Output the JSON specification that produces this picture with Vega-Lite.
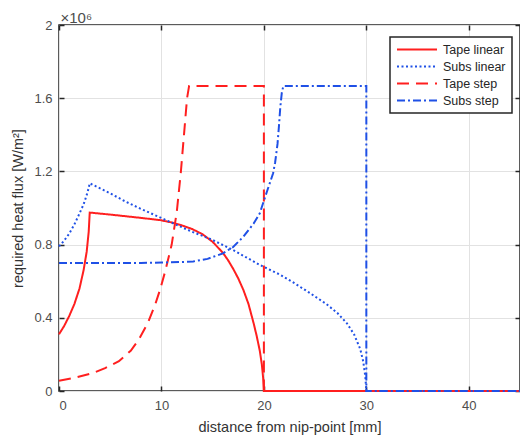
{
  "$schema": "https://vega.github.io/schema/vega-lite/v6.json",
  "width": 461,
  "height": 366,
  "autosize": {"type": "none"},
  "padding": {"left": 59, "top": 25, "right": 0, "bottom": 50},
  "background": "white",
  "config": {
    "font": "Liberation Sans",
    "view": {"stroke": "#262626", "strokeWidth": 1.5},
    "axis": {
      "domain": false,
      "grid": true,
      "gridColor": "#e2e2e2",
      "gridWidth": 1,
      "tickSize": -5,
      "tickColor": "#262626",
      "tickWidth": 1.5,
      "labelFont": "Liberation Sans",
      "labelFontSize": 13,
      "labelColor": "#4d4d4d",
      "titleFont": "Liberation Sans",
      "titleFontSize": 14.5,
      "titleFontWeight": "normal",
      "titleColor": "#333333"
    },
    "legend": {
      "strokeColor": "#262626",
      "strokeWidth": 1.5,
      "fillColor": "white",
      "padding": 6,
      "symbolType": "stroke",
      "symbolSize": 1600,
      "symbolStrokeWidth": 2,
      "labelFont": "Liberation Sans",
      "labelFontSize": 12.5,
      "labelColor": "#262626",
      "labelOffset": 5,
      "rowPadding": 4,
      "clipHeight": 13
    }
  },
  "data": {
    "values": [
      {"series": "Tape linear", "i": 1, "x": 0, "q": 310000},
      {"series": "Tape linear", "i": 2, "x": 0.5, "q": 355000},
      {"series": "Tape linear", "i": 3, "x": 1.0, "q": 410000},
      {"series": "Tape linear", "i": 4, "x": 1.5, "q": 475000},
      {"series": "Tape linear", "i": 5, "x": 2.0, "q": 560000},
      {"series": "Tape linear", "i": 6, "x": 2.4, "q": 660000},
      {"series": "Tape linear", "i": 7, "x": 2.7, "q": 760000},
      {"series": "Tape linear", "i": 8, "x": 2.9, "q": 870000},
      {"series": "Tape linear", "i": 9, "x": 3.0, "q": 975000},
      {"series": "Tape linear", "i": 10, "x": 5, "q": 964000},
      {"series": "Tape linear", "i": 11, "x": 6.5, "q": 955000},
      {"series": "Tape linear", "i": 12, "x": 8, "q": 946000},
      {"series": "Tape linear", "i": 13, "x": 9.85, "q": 934000},
      {"series": "Tape linear", "i": 14, "x": 11, "q": 921000},
      {"series": "Tape linear", "i": 15, "x": 12, "q": 905000},
      {"series": "Tape linear", "i": 16, "x": 13, "q": 885000},
      {"series": "Tape linear", "i": 17, "x": 14, "q": 857000},
      {"series": "Tape linear", "i": 18, "x": 15, "q": 815000},
      {"series": "Tape linear", "i": 19, "x": 16, "q": 755000},
      {"series": "Tape linear", "i": 20, "x": 16.5, "q": 715000},
      {"series": "Tape linear", "i": 21, "x": 17, "q": 668000},
      {"series": "Tape linear", "i": 22, "x": 17.5, "q": 615000},
      {"series": "Tape linear", "i": 23, "x": 18, "q": 552000},
      {"series": "Tape linear", "i": 24, "x": 18.5, "q": 475000},
      {"series": "Tape linear", "i": 25, "x": 19, "q": 370000},
      {"series": "Tape linear", "i": 26, "x": 19.3, "q": 300000},
      {"series": "Tape linear", "i": 27, "x": 19.6, "q": 220000},
      {"series": "Tape linear", "i": 28, "x": 19.8, "q": 145000},
      {"series": "Tape linear", "i": 29, "x": 19.93, "q": 70000},
      {"series": "Tape linear", "i": 30, "x": 20, "q": 0},
      {"series": "Tape linear", "i": 31, "x": 45, "q": 0},

      {"series": "Subs linear", "i": 1, "x": 0, "q": 790000},
      {"series": "Subs linear", "i": 2, "x": 0.5, "q": 822000},
      {"series": "Subs linear", "i": 3, "x": 1, "q": 860000},
      {"series": "Subs linear", "i": 4, "x": 1.5, "q": 910000},
      {"series": "Subs linear", "i": 5, "x": 2, "q": 970000},
      {"series": "Subs linear", "i": 6, "x": 2.4, "q": 1020000},
      {"series": "Subs linear", "i": 7, "x": 2.7, "q": 1070000},
      {"series": "Subs linear", "i": 8, "x": 2.9, "q": 1110000},
      {"series": "Subs linear", "i": 9, "x": 3.0, "q": 1135000},
      {"series": "Subs linear", "i": 10, "x": 5, "q": 1080000},
      {"series": "Subs linear", "i": 11, "x": 6.5, "q": 1035000},
      {"series": "Subs linear", "i": 12, "x": 8, "q": 995000},
      {"series": "Subs linear", "i": 13, "x": 9.85, "q": 949000},
      {"series": "Subs linear", "i": 14, "x": 11.5, "q": 907000},
      {"series": "Subs linear", "i": 15, "x": 13, "q": 870000},
      {"series": "Subs linear", "i": 16, "x": 15, "q": 825000},
      {"series": "Subs linear", "i": 17, "x": 17, "q": 770000},
      {"series": "Subs linear", "i": 18, "x": 19.6, "q": 689000},
      {"series": "Subs linear", "i": 19, "x": 21.6, "q": 635000},
      {"series": "Subs linear", "i": 20, "x": 22.9, "q": 592000},
      {"series": "Subs linear", "i": 21, "x": 24.5, "q": 535000},
      {"series": "Subs linear", "i": 22, "x": 26.1, "q": 475000},
      {"series": "Subs linear", "i": 23, "x": 27.2, "q": 425000},
      {"series": "Subs linear", "i": 24, "x": 28.1, "q": 370000},
      {"series": "Subs linear", "i": 25, "x": 28.8, "q": 310000},
      {"series": "Subs linear", "i": 26, "x": 29.4, "q": 230000},
      {"series": "Subs linear", "i": 27, "x": 29.7, "q": 160000},
      {"series": "Subs linear", "i": 28, "x": 29.9, "q": 80000},
      {"series": "Subs linear", "i": 29, "x": 30, "q": 0},
      {"series": "Subs linear", "i": 30, "x": 45, "q": 0},

      {"series": "Tape step", "i": 1, "x": 0, "q": 56000},
      {"series": "Tape step", "i": 2, "x": 1.5, "q": 72000},
      {"series": "Tape step", "i": 3, "x": 3.25, "q": 97000},
      {"series": "Tape step", "i": 4, "x": 4.5, "q": 125000},
      {"series": "Tape step", "i": 5, "x": 5.85, "q": 163000},
      {"series": "Tape step", "i": 6, "x": 7, "q": 220000},
      {"series": "Tape step", "i": 7, "x": 7.8, "q": 282000},
      {"series": "Tape step", "i": 8, "x": 8.7, "q": 375000},
      {"series": "Tape step", "i": 9, "x": 9.43, "q": 479000},
      {"series": "Tape step", "i": 10, "x": 9.9, "q": 560000},
      {"series": "Tape step", "i": 11, "x": 10.4, "q": 661000},
      {"series": "Tape step", "i": 12, "x": 11.0, "q": 800000},
      {"series": "Tape step", "i": 13, "x": 11.5, "q": 980000},
      {"series": "Tape step", "i": 14, "x": 11.9, "q": 1200000},
      {"series": "Tape step", "i": 15, "x": 12.2, "q": 1400000},
      {"series": "Tape step", "i": 16, "x": 12.5, "q": 1600000},
      {"series": "Tape step", "i": 17, "x": 12.7, "q": 1667000},
      {"series": "Tape step", "i": 18, "x": 20, "q": 1667000},
      {"series": "Tape step", "i": 19, "x": 20, "q": 0},
      {"series": "Tape step", "i": 20, "x": 45, "q": 0},

      {"series": "Subs step", "i": 1, "x": 0, "q": 700000},
      {"series": "Subs step", "i": 2, "x": 8, "q": 700000},
      {"series": "Subs step", "i": 3, "x": 10, "q": 702000},
      {"series": "Subs step", "i": 4, "x": 12, "q": 705000},
      {"series": "Subs step", "i": 5, "x": 13.1, "q": 708000},
      {"series": "Subs step", "i": 6, "x": 14.5, "q": 722000},
      {"series": "Subs step", "i": 7, "x": 16, "q": 752000},
      {"series": "Subs step", "i": 8, "x": 17, "q": 787000},
      {"series": "Subs step", "i": 9, "x": 18, "q": 843000},
      {"series": "Subs step", "i": 10, "x": 19, "q": 915000},
      {"series": "Subs step", "i": 11, "x": 19.6, "q": 971000},
      {"series": "Subs step", "i": 12, "x": 20.0, "q": 1040000},
      {"series": "Subs step", "i": 13, "x": 20.3, "q": 1090000},
      {"series": "Subs step", "i": 14, "x": 20.6, "q": 1140000},
      {"series": "Subs step", "i": 15, "x": 20.9, "q": 1190000},
      {"series": "Subs step", "i": 16, "x": 21.1, "q": 1250000},
      {"series": "Subs step", "i": 17, "x": 21.33, "q": 1350000},
      {"series": "Subs step", "i": 18, "x": 21.46, "q": 1440000},
      {"series": "Subs step", "i": 19, "x": 21.6, "q": 1550000},
      {"series": "Subs step", "i": 20, "x": 21.75, "q": 1630000},
      {"series": "Subs step", "i": 21, "x": 21.9, "q": 1667000},
      {"series": "Subs step", "i": 22, "x": 30, "q": 1667000},
      {"series": "Subs step", "i": 23, "x": 30, "q": 0},
      {"series": "Subs step", "i": 24, "x": 45, "q": 0}
    ]
  },
  "layer": [
    {
      "mark": {"type": "line", "strokeWidth": 2, "clip": false},
      "encoding": {
        "x": {
          "field": "x",
          "type": "quantitative",
          "scale": {"domain": [0, 45], "nice": false, "zero": false},
          "axis": {
            "orient": "bottom",
            "values": [0, 10, 20, 30, 40],
            "labelPadding": 13,
            "title": "distance from nip-point [mm]",
            "titlePadding": 8
          }
        },
        "y": {
          "field": "q",
          "type": "quantitative",
          "scale": {"domain": [0, 2000000], "nice": false},
          "axis": {
            "orient": "left",
            "values": [0, 400000, 800000, 1200000, 1600000, 2000000],
            "labelExpr": "'' + datum.value / 1000000",
            "labelPadding": 12,
            "title": "required heat flux [W/m²]",
            "titlePadding": 8
          }
        },
        "color": {
          "field": "series",
          "type": "nominal",
          "scale": {
            "domain": ["Tape linear", "Subs linear", "Tape step", "Subs step"],
            "range": ["#ff1f1f", "#1f50e6", "#ff1f1f", "#1f50e6"]
          },
          "legend": {"title": null, "orient": "none", "legendX": 331, "legendY": 12}
        },
        "strokeDash": {
          "field": "series",
          "type": "nominal",
          "scale": {
            "domain": ["Tape linear", "Subs linear", "Tape step", "Subs step"],
            "range": [[1, 0], [2, 2.5], [12, 7], [8, 3, 2, 3]]
          },
          "legend": {"title": null, "orient": "none", "legendX": 331, "legendY": 12}
        },
        "order": {"field": "i", "type": "quantitative"}
      }
    },
    {
      "mark": {"type": "point", "opacity": 0},
      "encoding": {
        "x": {
          "field": "x",
          "type": "quantitative",
          "axis": {
            "orient": "top",
            "values": [0, 10, 20, 30, 40],
            "labels": false,
            "grid": false,
            "title": "×10⁶",
            "titleAnchor": "start",
            "titleAlign": "left",
            "titleFontSize": 15,
            "titleColor": "#4d4d4d",
            "titleX": 1,
            "titleY": -3,
            "titleBaseline": "alphabetic"
          }
        },
        "y": {
          "field": "q",
          "type": "quantitative",
          "axis": {
            "orient": "right",
            "values": [0, 400000, 800000, 1200000, 1600000, 2000000],
            "labels": false,
            "grid": false,
            "title": null
          }
        }
      }
    }
  ],
  "resolve": {"axis": {"x": "independent", "y": "independent"}}
}
